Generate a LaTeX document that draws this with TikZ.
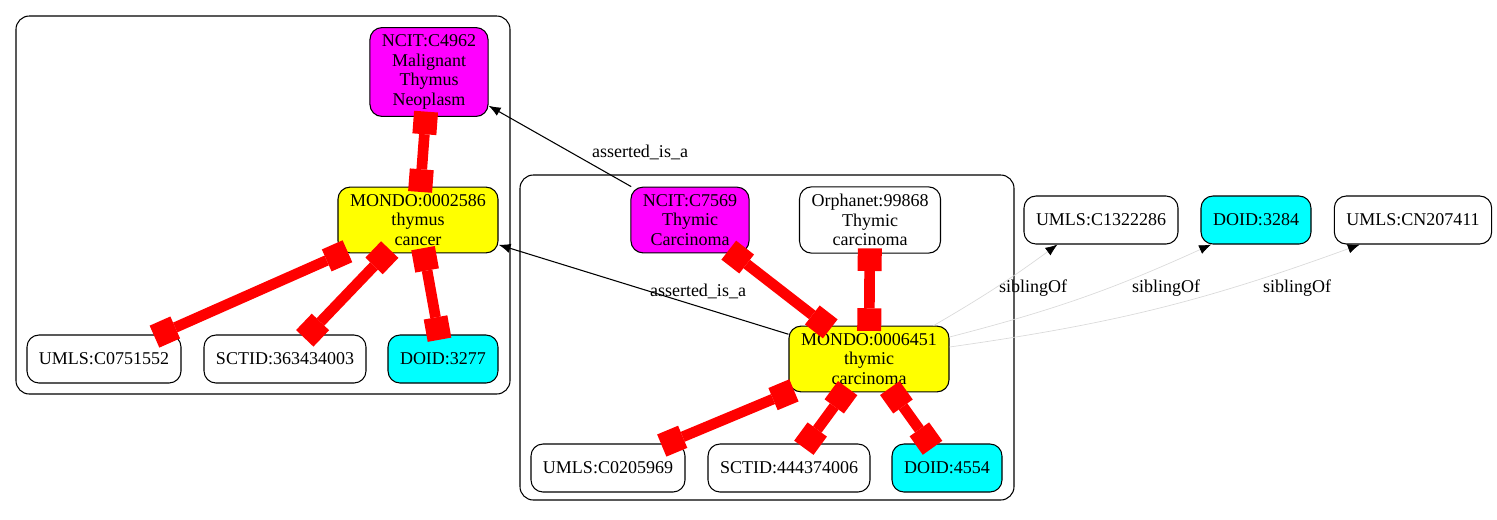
\documentclass[tikz,border=0pt]{standalone}
\usepackage{fontspec}
\setmainfont{Liberation Serif}
\usetikzlibrary{arrows.meta}
\definecolor{ncitmag}{RGB}{255,0,255}
\definecolor{mondoyel}{RGB}{255,255,0}
\definecolor{doidcyan}{RGB}{0,255,255}
\definecolor{xrefred}{RGB}{255,0,0}
\tikzset{>={Latex[length=9pt,width=7pt]}}

\begin{document}
\begin{tikzpicture}[x=0.75pt,y=-0.75pt,
  term/.style={rectangle,rounded corners=9pt,draw,line width=0.8pt,align=center,inner xsep=9pt,inner ysep=5.5pt,minimum height=36pt,font=\fontsize{13.5}{14.6}\selectfont},
  xref/.style={draw=xrefred,line width=8pt,arrows={Square[length=17pt,width=18pt,line width=0pt]-Square[length=17pt,width=18pt,line width=0pt]},shorten <=-4pt,shorten >=-4pt},
  sib/.style={draw=gray!30,line width=0.5pt,-{Latex[length=9pt,width=7pt,color=black]}},
  lbl/.style={font=\fontsize{13.5}{14.6}\selectfont},
  clus/.style={draw,line width=0.8pt,rounded corners=10pt}]
\useasboundingbox (0,0) rectangle (1497,519);

% clusters
\draw[clus] (16,16) rectangle (510,394);
\draw[clus] (520,175) rectangle (1014,500);

\node[term,fill=ncitmag] (1) at(429,72){NCIT:C4962\\Malignant\\Thymus\\Neoplasm};
\node[term,fill=mondoyel] (2) at(418,220){MONDO:0002586\\thymus\\cancer};
\node[term] (3) at(104,359){UMLS:C0751552};
\node[term] (4) at(285,359){SCTID:363434003};
\node[term,fill=doidcyan] (5) at(443,359){DOID:3277};
\node[term,fill=ncitmag] (6) at(690,220){NCIT:C7569\\Thymic\\Carcinoma};
\node[term] (7) at(870,220){Orphanet:99868\\Thymic\\carcinoma};
\node[term,fill=mondoyel] (8) at(869,359){MONDO:0006451\\thymic\\carcinoma};
\node[term] (9) at(608,468){UMLS:C0205969};
\node[term] (10) at(789,468){SCTID:444374006};
\node[term,fill=doidcyan] (11) at(947,468){DOID:4554};
\node[term] (12) at(1101,220){UMLS:C1322286};
\node[term,fill=doidcyan] (13) at(1256,220){DOID:3284};
\node[term] (14) at(1413,220){UMLS:CN207411};

% edge labels
\node[lbl] (l1) at(640,152){asserted\_is\_a};
\node[lbl] (l2) at(698,291){asserted\_is\_a};
\node[lbl] (l3) at(1033,288){siblingOf};
\node[lbl] (l4) at(1166,288){siblingOf};
\node[lbl] (l5) at(1297,288){siblingOf};

\draw[->,line width=0.8pt] (6) --(1);
\draw[->,line width=0.8pt] (8) --(2);
\draw[sib] ([xshift=-12pt]8.north east) to[bend right=3] ([xshift=25.5pt]12.south west);
\draw[sib] ([yshift=16.5pt]8.east) to[bend right=5] ([xshift=8pt]13.south west);
\draw[sib] ([yshift=9pt]8.east) to[bend right=6] ([xshift=19.5pt]14.south west);

\draw[xref] (1) --(2);
\draw[xref] (2) --(3);
\draw[xref] (2) --(4);
\draw[xref] (2) --(5);
\draw[xref] (6) --(8);
\draw[xref] (7) --(8);
\draw[xref] (8) --(9);
\draw[xref] (8) --(10);
\draw[xref] (8) --(11);

\end{tikzpicture}
\end{document}
